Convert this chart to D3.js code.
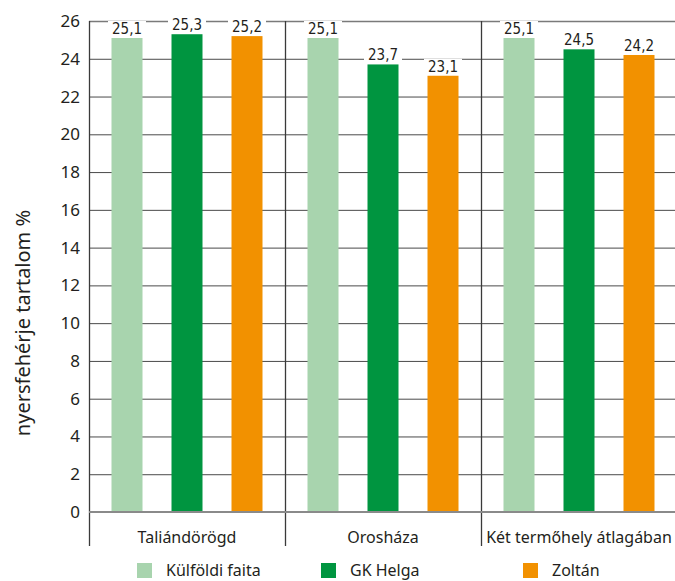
<!DOCTYPE html>
<html>
<head>
<meta charset="utf-8">
<script src="https://cdn.jsdelivr.net/npm/d3@7"></script>
<style>
  html, body { margin: 0; padding: 0; background: #fff; }
  svg { display: block; }
  .num { font-family: "Liberation Sans Narrow", "DejaVu Sans Condensed", "Noto Sans", sans-serif; }
  .txt { font-family: "Noto Sans", "Open Sans", sans-serif; fill: #231f20; }
</style>
</head>
<body>
<svg id="chart" width="675" height="581"></svg>
<script>
// Sites and varieties
const sites = ["Taliándörögd", "Orosháza", "Két termőhely átlagában"];
const varieties = ["Külföldi faita", "GK Helga", "Zoltán"];
const colors = ["#a8d4ae", "#009540", "#f29100"];

// Crude protein content (%) per site, in variety order
const kulfoldi = [25.1, 25.1, 25.1];
const gkHelga = [25.3, 23.7, 24.5];
const zoltan = [25.2, 23.1, 24.2];
const seriesValues = [kulfoldi, gkHelga, zoltan];

const yTicks = [0, 2, 4, 6, 8, 10, 12, 14, 16, 18, 20, 22, 24, 26];

const svg = d3.select("#chart");
const mLeft = 89, mRight = 675, mTop = 21, mBottom = 512;

const x = d3.scaleBand().domain(sites).range([mLeft, mLeft + 3 * 196]).paddingInner(0).paddingOuter(0);
const xInner = d3.scaleBand().domain(varieties).range([0, 196]).paddingInner(29 / 60).paddingOuter(0.375);
const y = d3.scaleLinear().domain([0, 26]).range([mBottom, mTop]);

// horizontal gridlines
svg.append("g").selectAll("line").data(yTicks.filter(d => d > 0)).join("line")
  .attr("x1", mLeft).attr("x2", mRight)
  .attr("y1", d => y(d) + 0.5).attr("y2", d => y(d) + 0.5)
  .attr("stroke", d => d === 26 ? "#7a7a7a" : "#4a4a4a")
  .attr("stroke-width", d => d === 26 ? 1.6 : 1);

// site dividers and y axis line
svg.append("g").selectAll("line").data(sites).join("line")
  .attr("x1", d => x(d) + 0.5).attr("x2", d => x(d) + 0.5)
  .attr("y1", mTop).attr("y2", 546)
  .attr("stroke", "#3a3a3a").attr("stroke-width", 1.3);

// bars
const groups = svg.append("g").selectAll("g").data(sites).join("g")
  .attr("transform", d => `translate(${x(d)},0)`);

groups.selectAll("rect").data((s, i) => varieties.map((v, j) => ({ v, j, val: seriesValues[j][i] })))
  .join("rect")
  .attr("x", d => xInner(d.v))
  .attr("width", xInner.bandwidth())
  .attr("y", d => y(d.val))
  .attr("height", d => y(0) - y(d.val))
  .attr("fill", d => colors[d.j]);

// value labels with white backing over gridlines
const fmt = v => d3.format(".1f")(v).replace(".", ",");
const lbl = groups.selectAll("g.lbl").data((s, i) => varieties.map((v, j) => ({ v, j, val: seriesValues[j][i] })))
  .join("g").attr("class", "lbl");
lbl.append("rect")
  .attr("x", d => xInner(d.v) + xInner.bandwidth() / 2 - 19)
  .attr("y", d => y(d.val) - 17)
  .attr("width", 38).attr("height", 15)
  .attr("fill", "#fff");
lbl.append("text")
  .attr("class", "num")
  .attr("x", d => xInner(d.v) + xInner.bandwidth() / 2)
  .attr("y", d => y(d.val) - 4)
  .attr("text-anchor", "middle")
  .attr("font-size", 15)
  .attr("fill", "#231f20")
  .text(d => fmt(d.val));

// zero line
svg.append("line")
  .attr("x1", mLeft).attr("x2", mRight)
  .attr("y1", y(0)).attr("y2", y(0))
  .attr("stroke", "#8a8a8a").attr("stroke-width", 2);

// y tick labels
svg.append("g").selectAll("text").data(yTicks).join("text")
  .attr("class", "txt")
  .attr("x", 80).attr("y", d => y(d) + 6)
  .attr("text-anchor", "end")
  .attr("font-size", 17)
  .text(d => d);

// y axis title
svg.append("text")
  .attr("class", "txt")
  .attr("transform", "translate(30,323) rotate(-90)")
  .attr("text-anchor", "middle")
  .attr("font-size", 20)
  .text("nyersfehérje tartalom %");

// site labels
svg.append("g").selectAll("text").data(sites).join("text")
  .attr("class", "txt")
  .attr("x", d => x(d) + x.bandwidth() / 2)
  .attr("y", 543)
  .attr("text-anchor", "middle")
  .attr("font-size", 16)
  .text(d => d);

// legend
const legendX = [137, 321, 523];
const leg = svg.append("g").selectAll("g").data(varieties).join("g")
  .attr("transform", (d, i) => `translate(${legendX[i]},563)`);
leg.append("rect").attr("width", 15).attr("height", 15).attr("fill", (d, i) => colors[i]);
leg.append("text").attr("class", "txt")
  .attr("x", 29).attr("y", 13)
  .attr("font-size", 16)
  .text(d => d);
</script>
</body>
</html>
